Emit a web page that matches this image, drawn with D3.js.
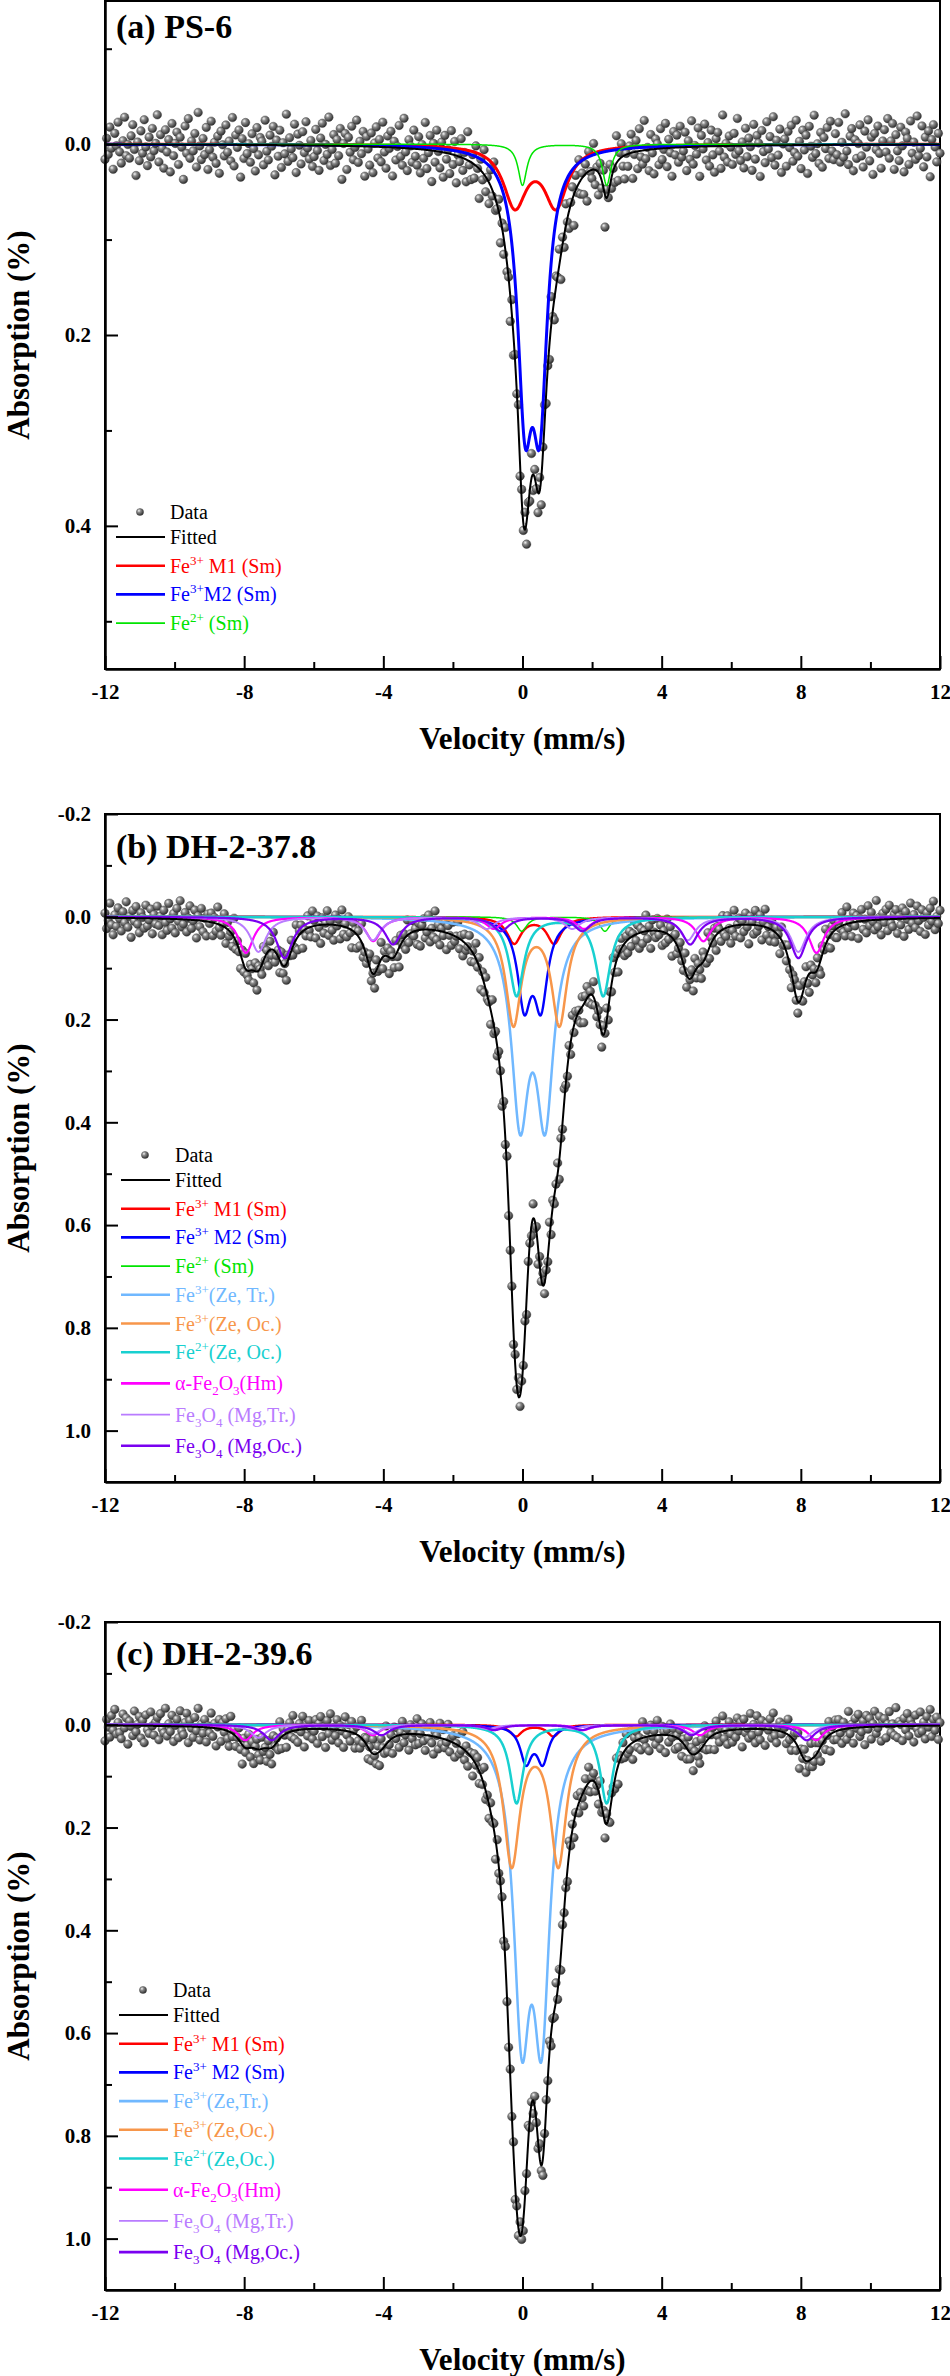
<!DOCTYPE html>
<html>
<head>
<meta charset="utf-8">
<style>
  body { margin: 0; background: #fff; }
  svg text { font-family: "Liberation Serif", "Times New Roman", serif; }
</style>
</head>
<body>
<div id="chart"></div>
<script src="https://d3js.org/d3.v7.min.js"></script>
<script>
// ---------- shared axis values ----------
var velocityTicks = [-12, -8, -4, 0, 4, 8, 12];
var velocityMinor = [-10, -6, -2, 2, 6, 10];
var channelCount = 512;

// ---------- (a) PS-6 : Lorentzian lines ----------
var aNames = ["Fe^{3+} M1 (Sm)", "Fe^{3+}M2 (Sm)", "Fe^{2+} (Sm)"];
var aKinds = ["m1", "m2", "fe2"];
var aPos = [[-0.22, 0.96], [0.07, 0.50], [0.0, 2.42]];
var aDepth = [[0.0625, 0.0625], [0.25, 0.25], [0.043, 0.043]];
var aHw = [0.4, 0.26, 0.15];
var aYTicks = [0, 0.2, 0.4];
var aYMinor = [-0.1, 0.1, 0.3, 0.5];
// scatter of the data points around the fit (units of 0.0013 %)
var aResid = [
12,-5,8,-14,3,20,-9,1,-18,6,15,-3,-22,9,0,11,-7,-16,4,25,-2,13,-11,7,-20,2,17,-6,10,-13,5,-1,
-24,14,-8,3,19,-12,6,-4,22,-17,9,-1,-10,16,-6,2,28,-15,7,-21,11,-3,5,-9,18,-26,1,12,-5,8,-14,20,
4,-19,10,-2,15,-7,23,-11,0,9,-16,6,-3,13,-22,17,-8,2,-12,26,-5,11,-18,7,-1,14,-9,3,21,-14,8,-6,
-3,16,-20,5,12,-8,1,-15,24,-4,9,-12,18,-2,7,-25,13,-6,3,10,-17,22,-9,0,15,-11,6,-19,2,11,-4,17,
9,-13,4,20,-6,-18,12,-1,7,-23,16,3,-9,14,-5,8,-14,27,-2,-10,19,-7,5,-16,11,1,-21,13,-4,6,-12,24,
-8,2,15,-11,21,-3,-16,9,-6,12,-20,4,17,-9,1,-13,23,-5,10,-1,-18,7,14,-24,3,18,-7,-2,11,-15,6,13,
-10,19,-4,7,-22,15,2,-12,25,-6,9,-17,0,13,-8,20,-14,5,-3,16,-19,8,-11,22,-1,4,-15,10,-5,18,-23,3,
14,-7,11,-16,1,24,-9,6,-20,12,-2,17,-13,5,-26,9,3,-10,19,-4,13,-18,7,-1,21,-12,15,-6,2,-17,10,-8,
6,-14,18,-3,9,-20,13,-7,2,16,-11,22,-5,-15,8,-1,12,-24,4,17,-9,1,-13,20,-6,10,-18,3,14,-2,-10,25,
-12,5,-19,11,-4,15,-8,23,-16,1,7,-21,12,-3,18,-10,6,-14,26,-7,3,-17,9,-2,13,-22,16,-5,-11,8,19,-1,
10,-6,-15,21,2,-9,14,-18,5,11,-24,7,-2,17,-12,3,20,-8,-4,13,-16,9,1,-20,15,-7,4,23,-13,6,-10,12,
-17,8,3,-12,19,-5,10,-21,14,-1,6,-15,24,-9,2,-18,11,-3,16,-13,7,21,-6,-11,4,18,-25,9,-2,13,-8,1,
15,-10,7,-22,4,12,-3,18,-14,9,-6,1,20,-17,11,-8,-2,25,-12,5,14,-19,3,-7,10,-23,16,-4,8,-13,22,-1,
-5,17,-11,2,-16,13,6,-20,9,-3,19,-12,4,-8,23,-15,1,10,-24,7,-1,15,-10,18,-6,3,-14,11,-19,5,12,-9,
8,-18,14,-2,10,-25,5,16,-7,-13,21,-4,11,-1,-16,9,18,-11,2,-20,13,-6,24,-9,4,-15,7,19,-3,-12,6,-21,
11,-3,-17,20,-8,5,13,-14,1,22,-10,-5,16,-19,7,-2,12,-23,9,3,-15,18,-6,10,-11,26,-4,-16,2,14,-9,7];

// ---------- (b) DH-2-37.8 ----------
var bNames = ["Fe^{3+} M1 (Sm)", "Fe^{3+} M2 (Sm)", "Fe^{2+} (Sm)", "Fe^{3+}(Ze, Tr.)", "Fe^{3+}(Ze, Oc.)",
              "Fe^{2+}(Ze, Oc.)", "α-Fe_{2}O_{3}(Hm)", "Fe_{3}O_{4} (Mg,Tr.)", "Fe_{3}O_{4} (Mg,Oc.)"];
var bKinds = ["m1", "m2", "fe2", "zeTr", "zeOc", "fe2Oc", "hm", "mgTr", "mgOc"];
var bPos = [[-0.24, 0.91], [0.05, 0.53], [-0.02, 2.37], [-0.07, 0.65], [-0.26, 1.06], [-0.17, 2.32],
            [-7.95, -4.29, -0.83, 1.77, 5.20, 8.45],
            [-7.59, -4.30, -1.03, 1.43, 4.75, 7.93],
            [-6.84, -3.72, -0.62, 1.72, 4.82, 7.93]];
var bDepth = [[0.0507, 0.0507], [0.161, 0.161], [0.028, 0.028], [0.37, 0.37], [0.206, 0.206], [0.1535, 0.1535],
              [0.070, 0.047, 0.023, 0.023, 0.047, 0.070],
              [0.068, 0.045, 0.023, 0.023, 0.045, 0.068],
              [0.080, 0.053, 0.027, 0.027, 0.053, 0.080]];
var bHw = [0.25, 0.23, 0.18, 0.30, 0.27, 0.25, 0.26, 0.27, 0.28];
var bYTicks = [-0.2, 0, 0.2, 0.4, 0.6, 0.8, 1.0];
var bYMinor = [-0.1, 0.1, 0.3, 0.5, 0.7, 0.9];
// units of 0.0015 %
var bResid = [
-6,14,3,-19,9,22,-4,11,-13,1,17,-8,6,-21,12,-2,25,-10,4,-15,8,19,-7,-1,13,-17,10,2,-12,20,-5,7,
-16,9,-3,21,-11,5,15,-20,0,12,-7,18,-14,3,-24,10,6,-9,16,-2,-18,11,1,-13,23,-6,8,-16,14,-4,19,-10,
2,-12,17,-7,10,-22,4,13,-3,-17,20,-9,7,-1,15,-25,11,-5,3,18,-13,9,-20,6,12,-8,-2,16,-11,24,-6,1,
13,-18,5,-4,19,-11,8,-23,14,2,-9,16,-15,10,-3,21,-7,0,-14,11,6,-19,17,-5,-10,22,-1,9,-16,4,13,-20,
-7,16,-12,3,24,-9,11,-2,-18,14,-5,7,20,-13,1,-8,17,-21,10,-4,12,-15,5,23,-11,-3,18,-7,9,-24,15,2,
10,-4,-17,12,-1,19,-14,6,8,-22,15,-6,3,-11,21,-9,-2,14,-18,7,25,-12,4,-7,16,-20,11,1,-15,6,-3,18,
-9,21,-6,-14,11,3,-19,16,-2,9,-25,12,-8,18,-4,5,-13,22,-10,2,14,-17,7,-1,-21,13,-6,19,-11,8,1,-16,
15,-2,9,-20,6,-12,23,-7,12,-16,4,-1,19,-23,10,-5,13,-9,-3,20,-14,8,-18,11,2,-7,17,-12,5,-24,14,-4,
4,-15,20,-8,1,13,-19,10,-6,22,-11,3,-16,14,-3,7,-21,17,-9,11,-1,-14,25,-6,8,-18,2,12,-10,16,-23,9,
-11,6,-2,18,-13,24,-7,-15,9,-4,13,-20,5,11,-8,-1,19,-12,3,-17,15,-5,10,-22,7,-9,21,-3,-13,4,16,-7,
17,-9,12,-3,-18,8,-11,20,-5,15,-1,-21,10,-6,23,-14,2,9,-16,5,-8,18,-2,13,-19,6,-12,24,-4,-10,11,-1,
-14,3,8,-22,16,-6,1,-10,21,-17,12,-4,6,19,-13,-2,10,-24,15,-7,4,-12,20,-9,-3,14,-18,7,11,-15,2,22,
6,-20,14,-1,-9,17,-5,9,-15,3,25,-11,-4,12,-19,8,1,-14,18,-6,-23,10,-2,16,-12,5,13,-8,-1,21,-17,3,
-3,12,-16,7,20,-8,-13,4,15,-21,2,11,-6,-18,9,24,-10,3,-5,14,-15,6,19,-11,1,-20,8,-4,17,-9,-14,10,
12,-7,3,-17,9,15,-22,6,-1,18,-12,5,-8,22,-4,-15,11,-2,16,-19,7,-10,2,13,-25,9,-3,20,-8,4,-13,15,
-18,5,10,-6,-12,19,-3,8,-14,23,-9,1,14,-20,6,-5,12,-16,3,17,-11,-1,21,-7,9,-13,4,-22,15,-2,7,-10];

// ---------- (c) DH-2-39.6 ----------
var cNames = ["Fe^{3+} M1 (Sm)", "Fe^{3+} M2 (Sm)", "Fe^{3+}(Ze,Tr.)", "Fe^{3+}(Ze,Oc.)", "Fe^{2+}(Ze,Oc.)",
              "α-Fe_{2}O_{3}(Hm)", "Fe_{3}O_{4} (Mg,Tr.)", "Fe_{3}O_{4} (Mg,Oc.)"];
var cKinds = ["m1", "m2", "zeTr", "zeOc", "fe2Oc", "hm", "mgTr", "mgOc"];
var cPos = [[-0.19, 0.89], [0.10, 0.58], [-0.02, 0.55], [-0.31, 1.03], [-0.17, 2.42],
            [-7.97, -4.30, -0.85, 1.75, 5.10, 8.44],
            [-7.59, -4.30, -1.00, 1.45, 4.86, 8.10],
            [-7.21, -4.05, -0.80, 1.70, 4.86, 8.17]];
var cDepth = [[0.022, 0.022], [0.0697, 0.0697], [0.545, 0.545], [0.2675, 0.2675], [0.152, 0.152],
              [0.030, 0.020, 0.010, 0.010, 0.020, 0.030],
              [0.025, 0.017, 0.008, 0.008, 0.017, 0.025],
              [0.030, 0.020, 0.010, 0.010, 0.020, 0.030]];
var cHw = [0.21, 0.20, 0.285, 0.285, 0.23, 0.26, 0.27, 0.28];
var cYTicks = [-0.2, 0, 0.2, 0.4, 0.6, 0.8, 1.0];
var cYMinor = [-0.1, 0.1, 0.3, 0.5, 0.7, 0.9];
// units of 0.0015 %
var cResid = [
20,-8,2,15,-13,6,-21,11,-4,9,17,-15,3,-10,24,-6,1,13,-19,8,-2,-12,16,-7,22,-14,5,10,-18,0,12,-5,
-11,18,-16,4,9,-23,13,-3,7,-14,20,-1,-9,15,-20,6,11,-5,-17,21,-8,2,14,-12,5,-24,17,-4,8,-10,19,-2,
7,-19,11,-6,23,-2,-12,16,-9,3,-15,10,19,-21,4,-7,13,-1,-16,9,25,-11,6,-4,-18,12,-8,20,-3,-13,7,14,
-15,4,-1,17,-10,8,21,-14,2,-6,12,-22,15,-9,1,18,-4,-12,7,-20,11,-2,16,-8,3,-17,23,-5,9,-11,-1,13,
3,-12,19,-7,-16,10,-3,24,-11,6,-20,14,-2,8,-13,17,-6,1,22,-18,5,-9,12,-14,-3,19,-10,7,15,-23,4,-6,
-8,15,-4,11,-19,2,13,-9,18,-15,-1,9,-24,12,5,-6,20,-13,3,-10,16,-3,-17,11,1,-7,21,-12,6,-2,14,-20,
12,-1,-14,8,20,-11,4,-17,9,23,-6,-2,15,-19,7,-12,11,3,-21,14,-5,-9,18,-1,-15,10,4,-22,13,-7,17,-4,
-5,22,-10,1,-13,16,-7,6,-23,11,-3,18,-12,2,-8,25,-16,9,-4,-11,13,-20,6,15,-9,1,-14,19,-6,10,-18,8,
14,-9,5,-21,12,-3,17,-14,1,10,-18,7,22,-5,-11,3,-15,16,-2,9,-24,12,-7,20,-10,4,-1,15,-17,6,-8,21,
-2,-16,13,-8,4,19,-12,7,-20,14,-4,-10,11,-1,17,-22,8,-6,21,-13,2,15,-9,-3,12,-18,24,-7,3,-14,9,-19,
9,6,-17,22,-5,-12,10,-2,15,-21,3,13,-8,19,-14,1,-6,12,-19,5,18,-11,-4,23,-7,9,-15,2,-10,16,-3,11,
-13,19,-6,-1,14,-18,8,-9,21,-4,-15,6,17,-12,3,-23,11,-7,15,-2,-10,20,-16,4,13,-5,-20,10,-1,18,-11,5,
16,-4,10,-15,2,-9,23,-13,5,-1,12,-20,8,-6,18,-17,4,14,-11,-3,21,-8,1,-14,11,-22,7,16,-5,-12,3,-9,
-7,13,-20,5,17,-3,-11,9,-18,24,-6,2,-13,15,-1,8,-21,11,6,-16,3,-9,19,-4,-12,14,-2,-18,22,-8,10,-15,
11,-14,4,18,-9,-1,14,-22,7,-5,20,-12,1,-17,12,6,-8,23,-15,3,-11,16,-4,-20,9,2,-13,19,-6,-10,15,-3,
-19,8,-3,12,-24,15,-6,-2,19,-10,5,-16,13,-7,-1,21,-14,4,10,-18,7,-5,17,-12,2,-21,14,-8,6,-11,18,-4];

// ---------- styles ----------
var colors = { fit: "#000000", m1: "#ff0000", m2: "#0000ff", fe2: "#00e400", zeTr: "#70b8ff",
               zeOc: "#f7964a", fe2Oc: "#18d0d0", hm: "#ff00ff", mgTr: "#b97cff", mgOc: "#7a00f0" };
var widths = { fit: 2, m1: 2.4, m2: 2.4, fe2: 1.5, zeTr: 2.5, zeOc: 2.5, fe2Oc: 2.5, hm: 2.2, mgTr: 2, mgOc: 2.2 };

var svg = d3.select("#chart").append("svg")
    .attr("width", 950)
    .attr("height", 2376);

// shaded sphere for the data markers
var ball = svg.append("defs").append("radialGradient")
    .attr("id", "ball").attr("cx", "35%").attr("cy", "32%").attr("r", "70%");
ball.append("stop").attr("offset", "0%").attr("stop-color", "#f4f4f4");
ball.append("stop").attr("offset", "35%").attr("stop-color", "#8a8a8a");
ball.append("stop").attr("offset", "100%").attr("stop-color", "#2c2c2c");

var x = d3.scaleLinear().domain([-12, 12]).range([105, 940]);
var curveV = d3.range(-12, 12.0001, 0.01);
var channelV = d3.range(channelCount).map(function(i) { return -12 + 24 * i / (channelCount - 1); });

function lorentz(v, pos, depth, hw) {
    var s = 0;
    for (var k = 0; k < pos.length; k++) {
        var d = v - pos[k];
        s += depth[k] * hw * hw / (d * d + hw * hw);
    }
    return s;
}

// writes "Fe^{3+}" / "Fe_{2}O_{3}" style labels as tspans
function richText(sel, label) {
    var parts = label.split(/(\^\{[^}]*\}|_\{[^}]*\})/).filter(function(s) { return s.length; });
    var shift = 0;
    parts.forEach(function(s) {
        var target = 0, txt = s, small = false;
        if (s[0] === "^") { target = -8; txt = s.slice(2, -1); small = true; }
        else if (s[0] === "_") { target = 5; txt = s.slice(2, -1); small = true; }
        var t = sel.append("tspan").attr("dy", target - shift).text(txt);
        if (small) t.attr("font-size", 13);
        shift = target;
    });
}

function drawPanel(p) {
    var y = d3.scaleLinear().domain(p.yDomain).range([p.top, p.bottom]);
    var g = svg.append("g");

    var comps = p.names.map(function(n, i) {
        return { name: n, kind: p.kinds[i], pos: p.pos[i], depth: p.depth[i], hw: p.hw[i] };
    });
    function fit(v) {
        return d3.sum(comps, function(c) { return lorentz(v, c.pos, c.depth, c.hw); });
    }

    // frame
    g.append("rect")
        .attr("x", 105).attr("y", p.top)
        .attr("width", 835).attr("height", p.bottom - p.top)
        .attr("fill", "none").attr("stroke", "#000").attr("stroke-width", 2);

    // data points
    var pts = channelV.map(function(v, i) { return { v: v, a: fit(v) + p.resid[i] * p.residUnit }; });
    g.append("g").selectAll("circle")
        .data(pts)
        .enter()
        .append("circle")
        .attr("cx", function(d) { return x(d.v); })
        .attr("cy", function(d) { return y(d.a); })
        .attr("r", 4.3)
        .attr("fill", "url(#ball)")
        .attr("stroke", "#3a3a3a")
        .attr("stroke-width", 0.4);

    // component curves
    var line = d3.line().x(function(d) { return x(d[0]); }).y(function(d) { return y(d[1]); });
    comps.forEach(function(c) {
        g.append("path")
            .datum(curveV.map(function(v) { return [v, lorentz(v, c.pos, c.depth, c.hw)]; }))
            .attr("d", line)
            .attr("fill", "none")
            .attr("stroke", colors[c.kind])
            .attr("stroke-width", p.thick && (c.kind === "m1" || c.kind === "m2") ? 3 : widths[c.kind]);
    });

    // fitted sum
    g.append("path")
        .datum(curveV.map(function(v) { return [v, fit(v)]; }))
        .attr("d", line)
        .attr("fill", "none")
        .attr("stroke", colors.fit)
        .attr("stroke-width", widths.fit);

    // axes
    var xAxis = g.append("g")
        .attr("transform", "translate(0," + p.bottom + ")")
        .call(d3.axisBottom(x).tickValues(velocityTicks).tickSize(-13).tickSizeOuter(0).tickPadding(15)
            .tickFormat(function(d) { return String(d); }));
    g.append("g")
        .attr("transform", "translate(0," + p.bottom + ")")
        .call(d3.axisBottom(x).tickValues(velocityMinor).tickSize(-7).tickFormat(""))
        .call(function(s) { s.select(".domain").remove(); });
    var yAxis = g.append("g")
        .attr("transform", "translate(105,0)")
        .call(d3.axisLeft(y).tickValues(p.yTicks).tickSize(-13).tickSizeOuter(0).tickPadding(14)
            .tickFormat(function(d) { return d.toFixed(1); }));
    g.append("g")
        .attr("transform", "translate(105,0)")
        .call(d3.axisLeft(y).tickValues(p.yMinor).tickSize(-7).tickFormat(""))
        .call(function(s) { s.select(".domain").remove(); });

    g.selectAll(".tick line").attr("stroke-width", 2);
    [xAxis, yAxis].forEach(function(a) {
        a.attr("font-family", "Liberation Serif").attr("font-size", 21).attr("font-weight", "bold");
        a.select(".domain").attr("stroke-width", 2.5);
    });

    // titles
    g.append("text")
        .attr("x", 116).attr("y", p.top + p.titleDy)
        .attr("font-size", 34).attr("font-weight", "bold")
        .text(p.title);
    g.append("text")
        .attr("x", 522.5).attr("y", p.bottom + 80)
        .attr("text-anchor", "middle")
        .attr("font-size", 31).attr("font-weight", "bold")
        .text("Velocity (mm/s)");
    g.append("text")
        .attr("transform", "translate(29," + (p.top + p.bottom) / 2 + ") rotate(-90)")
        .attr("text-anchor", "middle")
        .attr("font-size", 31).attr("font-weight", "bold")
        .text("Absorption (%)");

    // legend
    var items = [{ name: "Data", kind: "data" }, { name: "Fitted", kind: "fit" }].concat(comps);
    var rowY = p.legendY;
    items.forEach(function(it, i) {
        if (i === 1) rowY += 25;
        else if (i > 1) rowY += 28.7 + (it.name.indexOf("_{") >= 0 ? 2.5 : 0);
        var lx = p.legendX;
        if (it.kind === "data") {
            g.append("circle").attr("cx", lx + 24).attr("cy", rowY).attr("r", 3.6)
                .attr("fill", "url(#ball)").attr("stroke", "#3a3a3a").attr("stroke-width", 0.4);
        } else {
            g.append("line").attr("x1", lx).attr("x2", lx + 49).attr("y1", rowY).attr("y2", rowY)
                .attr("stroke", colors[it.kind])
                .attr("stroke-width", it.kind === "fit" ? 2 : (it.kind === "fe2" || it.kind === "mgTr" ? 1.6 : 2.6));
        }
        var t = g.append("text")
            .attr("x", lx + 54).attr("y", rowY + 7)
            .attr("font-size", 20)
            .attr("fill", it.kind === "data" ? "#000" : colors[it.kind]);
        richText(t, it.name);
    });
}

drawPanel({ title: "(a) PS-6", top: 1, bottom: 669, titleDy: 37, yDomain: [-0.15, 0.55],
            yTicks: aYTicks, yMinor: aYMinor, names: aNames, kinds: aKinds, pos: aPos, depth: aDepth,
            hw: aHw, resid: aResid, residUnit: 0.0013, legendX: 116, legendY: 512, thick: true });
drawPanel({ title: "(b) DH-2-37.8", top: 814, bottom: 1482, titleDy: 44, yDomain: [-0.2, 1.1],
            yTicks: bYTicks, yMinor: bYMinor, names: bNames, kinds: bKinds, pos: bPos, depth: bDepth,
            hw: bHw, resid: bResid, residUnit: 0.0015, legendX: 121, legendY: 1155 });
drawPanel({ title: "(c) DH-2-39.6", top: 1622, bottom: 2290, titleDy: 43, yDomain: [-0.2, 1.1],
            yTicks: cYTicks, yMinor: cYMinor, names: cNames, kinds: cKinds, pos: cPos, depth: cDepth,
            hw: cHw, resid: cResid, residUnit: 0.0015, legendX: 119, legendY: 1990 });
</script>
</body>
</html>
